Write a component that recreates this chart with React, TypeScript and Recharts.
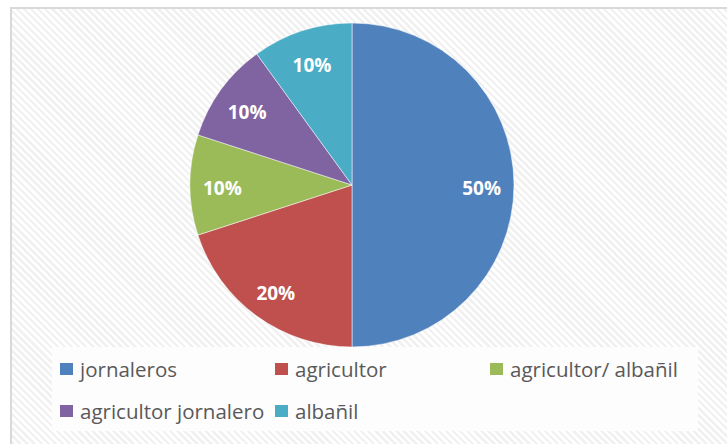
import { PieChart, Pie, Cell, Legend } from 'recharts';

const categories = ['jornaleros', 'agricultor', 'agricultor/ albañil', 'agricultor jornalero', 'albañil'];
const shares = [50, 20, 10, 10, 10];
const COLORS = ['#4F81BD', '#C0504D', '#9BBB59', '#8064A2', '#4BACC6'];

const data = categories.map((name, i) => ({ name, value: shares[i] }));

const RADIAN = Math.PI / 180;

const renderLabel = ({ cx, cy, midAngle, outerRadius, percent }: any) => {
  const r = outerRadius * 0.8;
  const x = cx + r * Math.cos(-midAngle * RADIAN);
  const y = cy + r * Math.sin(-midAngle * RADIAN) + 3;
  return (
    <text
      x={x}
      y={y}
      fill="#ffffff"
      textAnchor="middle"
      dominantBaseline="central"
      fontSize={19}
      fontWeight={700}
      fontFamily="'Open Sans', sans-serif"
    >
      {`${Math.round(percent * 100)}%`}
    </text>
  );
};

const renderLegend = () => (
  <div
    style={{
      display: 'grid',
      gridTemplateColumns: '215px 215px 215px',
      paddingLeft: 8,
      paddingTop: 1,
      fontFamily: "'Open Sans', sans-serif",
      fontSize: 20.5,
      color: '#595959',
    }}
  >
    {categories.map((name, i) => (
      <div key={name} style={{ display: 'flex', alignItems: 'center', height: 42 }}>
        <span
          style={{
            display: 'inline-block',
            width: 13,
            height: 12,
            backgroundColor: COLORS[i],
            marginRight: 7,
          }}
        />
        <span>{name}</span>
      </div>
    ))}
  </div>
);

export default function App() {
  return (
    <div style={{ position: 'absolute', left: 0, top: 0, width: 727, height: 444, overflow: 'hidden', background: '#fff' }}>
      <div
        style={{
          position: 'absolute',
          left: 10,
          top: 7,
          width: 740,
          height: 460,
          borderTop: '2px solid #d9d9d9',
          borderLeft: '2px solid #d9d9d9',
          backgroundImage:
            'repeating-linear-gradient(45deg, #ffffff 0px, #ffffff 2.5px, #f1f1f1 2.5px, #f1f1f1 5px)',
        }}
      />
      <div style={{ position: 'absolute', left: 0, top: 0 }}>
        <PieChart width={727} height={444} margin={{ top: 0, right: 0, bottom: 0, left: 0 }}>
          <Pie
            data={data}
            dataKey="value"
            nameKey="name"
            cx={352}
            cy={185}
            outerRadius={162}
            startAngle={90}
            endAngle={-270}
            stroke="#ffffff"
            strokeWidth={0.5}
            label={renderLabel}
            labelLine={false}
            isAnimationActive={false}
          >
            {data.map((_, i) => (
              <Cell key={`cell-${i}`} fill={COLORS[i]} />
            ))}
          </Pie>
          <Legend
            content={renderLegend}
            verticalAlign="bottom"
            align="left"
            wrapperStyle={{
              left: 52,
              top: 347,
              bottom: 'auto',
              width: 646,
              height: 84,
              background: '#fdfdfd',
            }}
          />
        </PieChart>
      </div>
    </div>
  );
}
